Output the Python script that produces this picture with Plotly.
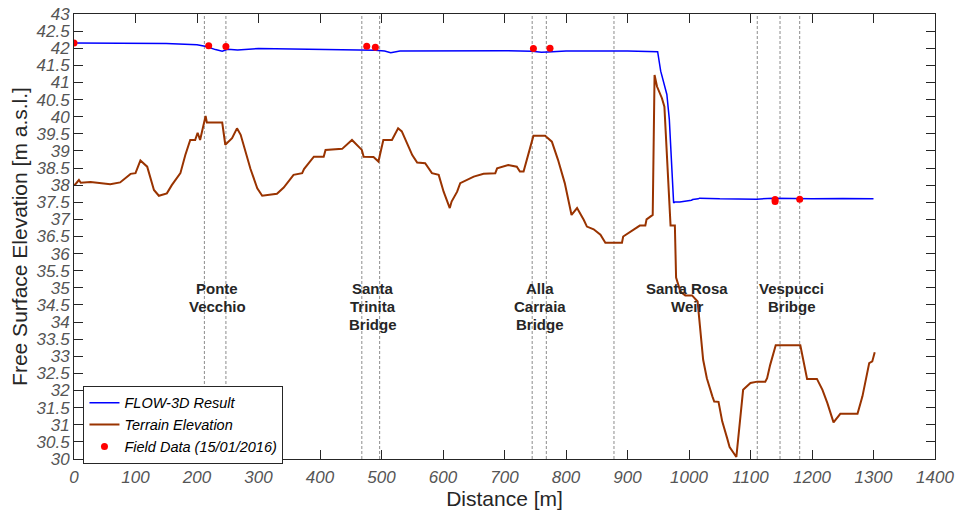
import plotly.graph_objects as go

# ---------------- data ----------------
flow_x = [0, 100, 150, 200, 215, 230, 241, 250, 266, 300, 350, 400, 470, 490, 505, 515, 530, 600, 700,
          745, 760, 770, 800, 900, 945, 949, 954, 964, 968, 972, 975, 977, 985, 1004, 1006, 1015, 1017,
          1050, 1110, 1137, 1200, 1250, 1300]
flow_y = [42.15, 42.15, 42.14, 42.10, 42.05, 41.96, 41.91, 41.97, 41.95, 41.99, 41.98, 41.96, 41.94,
          41.94, 41.92, 41.87, 41.92, 41.93, 41.93, 41.91, 41.88, 41.89, 41.92, 41.92, 41.92, 41.90,
          41.33, 40.65, 39.92, 38.55, 37.48, 37.51, 37.51, 37.56, 37.58, 37.60, 37.62, 37.60, 37.59,
          37.62, 37.60, 37.61, 37.60]

terrain_x = [0, 2, 8, 11, 27, 59, 75, 92, 100, 108, 119, 130, 138, 151, 159, 173, 181, 189, 197, 201,
             205, 214, 216, 241, 246, 257, 265, 271, 287, 298, 306, 330, 341, 357, 371, 374, 390, 406,
             409, 436, 452, 468, 471, 487, 495, 503, 517, 527, 533, 539, 550, 558, 571, 582, 593, 601,
             611, 614, 623, 628, 650, 666, 685, 688, 706, 720, 725, 731, 739, 747, 766, 777, 787, 798,
             809, 818, 829, 834, 845, 856, 864, 891, 893, 920, 929, 931, 941, 944, 948, 956, 960, 970,
             977, 979, 986, 994, 1005, 1014, 1023, 1029, 1038, 1041, 1048, 1054, 1062, 1066, 1077,
             1088, 1100, 1111, 1124, 1127, 1132, 1141, 1181, 1185, 1192, 1208, 1217, 1225, 1235, 1246,
             1274, 1282, 1293, 1298, 1302]
terrain_y = [38.00, 38.02, 38.15, 38.07, 38.09, 38.03, 38.08, 38.33, 38.35, 38.72, 38.54, 37.86, 37.69,
             37.76, 38.00, 38.35, 38.88, 39.32, 39.32, 39.53, 39.32, 40.02, 39.83, 39.83, 39.18, 39.37,
             39.66, 39.47, 38.47, 37.91, 37.69, 37.75, 37.93, 38.30, 38.35, 38.47, 38.83, 38.83, 39.03,
             39.06, 39.32, 39.03, 38.83, 38.82, 38.69, 39.32, 39.32, 39.66, 39.57, 39.32, 38.88, 38.66,
             38.64, 38.35, 38.30, 37.81, 37.33, 37.52, 37.81, 38.06, 38.25, 38.33, 38.35, 38.49, 38.59,
             38.54, 38.40, 38.40, 38.93, 39.44, 39.44, 39.27, 38.74, 38.06, 37.13, 37.33, 36.98, 36.79,
             36.71, 36.55, 36.32, 36.32, 36.50, 36.82, 36.82, 37.00, 37.13, 41.22, 40.88, 40.54, 40.29,
             36.82, 36.82, 35.30, 34.89, 34.78, 34.78, 34.60, 32.90, 32.36, 31.83, 31.68, 31.67, 31.10,
             30.61, 30.35, 30.06, 32.02, 32.22, 32.26, 32.26, 32.36, 32.75, 33.32, 33.32, 32.99, 32.34,
             32.34, 32.02, 31.63, 31.07, 31.32, 31.32, 31.83, 32.80, 32.85, 33.12]

field_x = [0, 219, 247, 476, 490, 747, 774, 1140, 1140, 1180]
field_y = [42.15, 42.07, 42.05, 42.06, 42.03, 41.99, 42.00, 37.52, 37.58, 37.59]

bridge_lines_x = [212, 247, 468, 497, 745, 768, 878, 1111, 1148, 1180]

label_lines = [["Ponte", "Vecchio"], ["Santa", "Trinita", "Bridge"], ["Alla", "Carraia", "Bridge"],
               ["Santa Rosa", "Weir"], ["Vespucci", "Bribge"]]
label_x = [233, 486, 758, 997, 1167]
label_y_top = 34.97
label_line_step = 0.515

x_ticks = list(range(0, 1401, 100))
y_ticks = [30 + 0.5 * i for i in range(27)]

# ---------------- figure ----------------
FONT = "Liberation Sans, Arial, Helvetica"
fig = go.Figure()
fig.add_trace(go.Scatter(x=flow_x, y=flow_y, mode="lines", name="FLOW-3D Result",
                         line=dict(color="#0000FF", width=1.5)))
fig.add_trace(go.Scatter(x=terrain_x, y=terrain_y, mode="lines", name="Terrain Elevation",
                         line=dict(color="#993300", width=2)))
fig.add_trace(go.Scatter(x=field_x, y=field_y, mode="markers", name="Field Data (15/01/2016)",
                         marker=dict(color="#FF0000", size=7)))

for bx in bridge_lines_x:
    fig.add_shape(type="line", xref="x", yref="paper", x0=bx, x1=bx, y0=0, y1=1,
                  line=dict(color="#8c8c8c", width=1, dash="3px,2px"), layer="below")

for lines, lx in zip(label_lines, label_x):
    for i, t in enumerate(lines):
        fig.add_annotation(x=lx, y=label_y_top - i * label_line_step, xref="x", yref="y",
                           text="<b>" + t + "</b>", showarrow=False, yanchor="middle",
                           align="center",
                           font=dict(family=FONT, size=15, color="#262626"))

axis_common = dict(showline=True, linecolor="#262626", linewidth=1, mirror="ticks",
                   ticks="inside", ticklen=9, tickcolor="#262626", showgrid=False, zeroline=False,
                   automargin=False,
                   tickfont=dict(family=FONT, size=17, color="#555555", style="italic"))

fig.update_xaxes(range=[0, 1400], tickvals=x_ticks, **axis_common, ticklabelstandoff=3,
                 title=dict(text="Distance [m]", standoff=0,
                            font=dict(family=FONT, size=21, color="#262626")))
fig.update_yaxes(range=[30, 43], tickvals=y_ticks, **axis_common,
                 title=dict(text="Free Surface Elevation [m a.s.l.]", standoff=3,
                            font=dict(family=FONT, size=21, color="#262626")))

fig.update_layout(
    width=957, height=511,
    margin=dict(l=73.5, r=22, t=14, b=52),
    paper_bgcolor="white", plot_bgcolor="white",
    showlegend=True,
    legend=dict(x=0.011, y=0.1646, xanchor="left", yanchor="top",
                bgcolor="white", bordercolor="#262626", borderwidth=1,
                font=dict(family=FONT, size=14.5, color="#000000", style="italic"),
                tracegroupgap=0, itemwidth=30),
)

fig.write_html("out.html", config={"displayModeBar": False},
               post_script="document.body.style.margin='0';document.body.style.overflow='hidden';")
